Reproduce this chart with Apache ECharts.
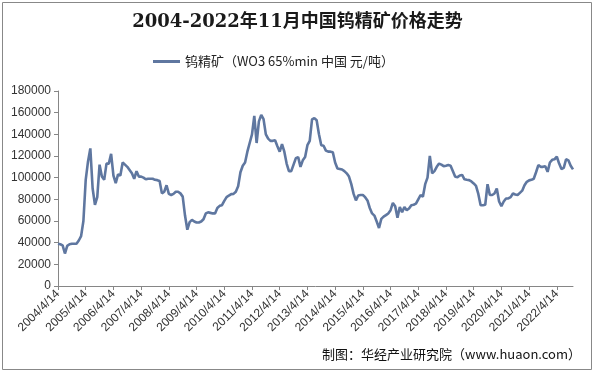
<!DOCTYPE html>
<html><head><meta charset="utf-8">
<script src="https://cdn.jsdelivr.net/npm/echarts@6/dist/echarts.min.js"></script>
<style>html,body{margin:0;padding:0;background:#fff}#c{width:595px;height:373px}</style>
</head><body><div id="c"></div>
<script>
var titleText = '2004-2022年11月中国钨精矿价格走势';
var seriesName = '钨精矿（WO3 65%min 中国 元/吨）';
var sourceText = '制图：华经产业研究院（www.huaon.com）';
var startYear = 2004, startMonth = 4, day = 14;
var yTicks = [0, 20000, 40000, 60000, 80000, 100000, 120000, 140000, 160000, 180000];
// monthly prices, 2004/4 .. 2022/11
var prices = [
39000, 38500, 37500, 30000, 37000, 38500, 39000, 39000, 39000, 42000, 46000, 60000,
98000, 115000, 127000, 90000, 75000, 82000, 112000, 101000, 98000, 113000, 113000, 122000,
102000, 95000, 103000, 102000, 114000, 112000, 110000, 107000, 104000, 99000, 106000, 101000,
101000, 100000, 98500, 99000, 99000, 99000, 98000, 97700, 97000, 85500, 87000, 93000,
85000, 84000, 85000, 87000, 87000, 85500, 82500, 65000, 52000, 59000, 61000, 59500,
58600, 58600, 59500, 61600, 67000, 68000, 67500, 67000, 67000, 72000, 74000, 74600,
78600, 82000, 83500, 84800, 85000, 87000, 92000, 105000, 111000, 114000, 124000, 132000,
140000, 157000, 132000, 152000, 158000, 154000, 140000, 136000, 134000, 134000, 134500, 129000,
124000, 131000, 124000, 113000, 106000, 106000, 112000, 118000, 119000, 110000, 116000, 119000,
130000, 134000, 153800, 155000, 153000, 140000, 130000, 129500, 125000, 124000, 124000, 123500,
114000, 108500, 108000, 107500, 106000, 104000, 101000, 94000, 85000, 79000, 83500, 84000,
84000, 82000, 79000, 72000, 67000, 65000, 59500, 53500, 62000, 64000, 65400, 67000,
70000, 76700, 73700, 63000, 73000, 68000, 73000, 70000, 71500, 74600, 75000, 76000,
80000, 84000, 82300, 94000, 100000, 120000, 104000, 106000, 110000, 113000, 112000, 110600,
111000, 111600, 111000, 106000, 100800, 100500, 102000, 102500, 98500, 98000, 97700, 96500,
94700, 92500, 85000, 74600, 74600, 75000, 94000, 84000, 84000, 85400, 90000, 78000,
73700, 78000, 80800, 80800, 82000, 85400, 84500, 84000, 86000, 88000, 93000, 96200,
97500, 98000, 99000, 105000, 111600, 110000, 110000, 110600, 105400, 114000, 116500, 117000,
119300, 113000, 108000, 109000, 117000, 116000, 111000, 107600
];
var categories = [];
(function(){
  var y = startYear, m = startMonth;
  for (var i = 0; i < prices.length; i++) {
    categories.push(y + '/' + m + '/' + day);
    m++; if (m > 12) { m = 1; y++; }
  }
})();

var chart = echarts.init(document.getElementById('c'), null, {renderer:'canvas'});
var axisColor = '#868686';
chart.setOption({
  animation: false,
  backgroundColor: '#fff',
  title: {
    text: titleText, left: 'center', top: 8,
    textStyle: {fontFamily: '"DejaVu Serif", "Noto Sans CJK SC"', fontWeight: 'bold', fontSize: 18, color: '#1a1a1a'}
  },
  legend: {
    top: 50, left: 148,
    itemWidth: 27, itemHeight: 3, icon: 'rect', itemGap: 2,
    textStyle: {fontFamily: 'Noto Sans CJK SC', fontSize: 13, color: '#222'},
    data: [seriesName]
  },
  grid: {left: 58, right: 22, top: 91, bottom: 87, containLabel: false},
  xAxis: {
    type: 'category', data: categories, boundaryGap: false,
    axisLine: {lineStyle: {color: axisColor}},
    axisTick: {show: true, interval: 11, length: 4, lineStyle: {color: axisColor}},
    axisLabel: {interval: 11, rotate: 45, fontFamily: 'Liberation Sans', fontSize: 12, color: '#333', margin: 6}
  },
  yAxis: {
    type: 'value', min: yTicks[0], max: yTicks[yTicks.length-1], interval: yTicks[1]-yTicks[0],
    splitLine: {show: false},
    axisLine: {show: true, lineStyle: {color: axisColor}},
    axisTick: {show: true, length: 4, lineStyle: {color: axisColor}},
    axisLabel: {fontFamily: 'Liberation Sans', fontSize: 12, color: '#333', margin: 7,
      formatter: function(v){ return String(v); }}
  },
  series: [{
    name: seriesName, type: 'line', data: prices, showSymbol: false, symbol: 'none',
    lineStyle: {color: '#5f77a0', width: 2.6},
    itemStyle: {color: '#5f77a0'}
  }],
  graphic: [
    {type: 'rect', shape: {x: 2.5, y: 2.5, width: 589, height: 367}, style: {fill: 'none', stroke: '#888', lineWidth: 1}, silent: true},
    {type: 'text', right: 14, top: 348, style: {text: sourceText, font: '13px "Noto Sans CJK SC"', fill: '#111'}}
  ]
});
</script></body></html>
